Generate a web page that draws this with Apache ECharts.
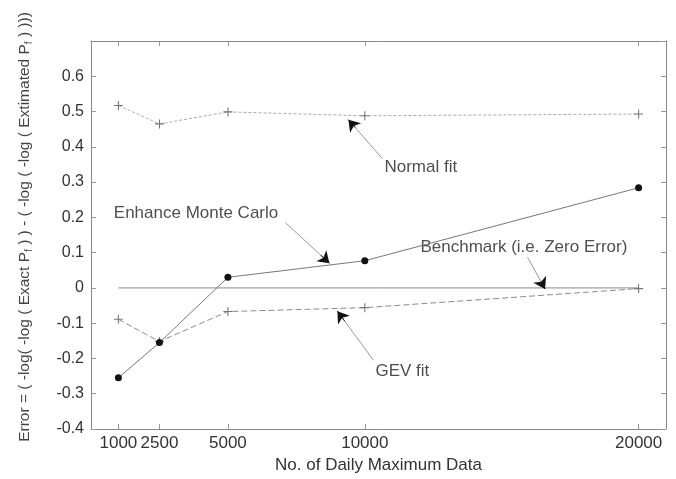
<!DOCTYPE html>
<html>
<head>
<meta charset="utf-8">
<script src="https://cdn.jsdelivr.net/npm/echarts@6/dist/echarts.min.js"></script>
<style>
html,body{margin:0;padding:0;background:#fff;}
#main{width:676px;height:479px;}
</style>
</head>
<body>
<div id="main"></div>
<script>
// ---- data ----
const xValues = [1000, 2500, 5000, 10000, 20000];
const xTickLabels = ['1000', '2500', '5000', '10000', '20000'];
const normalFit = [0.517, 0.465, 0.499, 0.488, 0.493];
const gevFit = [-0.089, -0.152, -0.067, -0.056, -0.002];
const enhancedMC = [-0.255, -0.155, 0.030, 0.077, 0.284];
const benchmarkX = [1000, 20000];
const benchmarkY = [0, 0];

// annotation texts and arrows (in data coordinates)
const noteTexts = ['Normal fit', 'Enhance Monte Carlo', 'Benchmark (i.e. Zero Error)', 'GEV fit'];
const noteX = [10717, 833, 12032, 10388];
const noteY = [0.341, 0.2125, 0.116, -0.236];
const arrowTailX = [10644, 7100, 15943, 10315];
const arrowTailY = [0.366, 0.185, 0.087, -0.205];
const arrowTipX = [9401, 8708, 16582, 8999];
const arrowTipY = [0.477, 0.070, -0.003, -0.066];

const FONT = '"Liberation Sans", Arial, sans-serif';
const pairs = (xs, ys) => xs.map((x, i) => [x, ys[i]]);
const plusPath = 'path://M4.4,0H5.6V4.4H10V5.6H5.6V10H4.4V5.6H0V4.4H4.4Z';

const arrowLines = arrowTailX.map((x, i) => [
  { coord: [x, arrowTailY[i]] },
  { coord: [arrowTipX[i], arrowTipY[i]] }
]);
const arrowHeads = arrowTailX.map((x, i) => {
  const sx = arrowTipX[i] + 0.2 * (x - arrowTipX[i]);
  const sy = arrowTipY[i] + 0.2 * (arrowTailY[i] - arrowTipY[i]);
  return [{ coord: [sx, sy] }, { coord: [arrowTipX[i], arrowTipY[i]] }];
});

const frameAxisCommon = {
  axisLine: { show: true, onZero: false, lineStyle: { color: '#888', width: 1 } },
  splitLine: { show: false }
};

const chart = echarts.init(document.getElementById('main'), null, { renderer: 'canvas' });
chart.setOption({
  animation: false,
  backgroundColor: '#fff',
  textStyle: { fontFamily: FONT },
  grid: { left: 91, right: 10, top: 41, bottom: 47 },
  xAxis: [
    Object.assign({
      type: 'value', min: 0, max: 21000, position: 'bottom',
      axisTick: { show: true, inside: true, length: 5, customValues: xValues, lineStyle: { color: '#999' } },
      axisLabel: {
        customValues: xValues,
        formatter: v => xTickLabels[xValues.indexOf(v)],
        color: '#333', fontSize: 17, margin: 6, fontFamily: FONT
      },
      name: 'No. of Daily Maximum Data',
      nameLocation: 'middle', nameGap: 28,
      nameTextStyle: { color: '#333', fontSize: 17, fontFamily: FONT }
    }, frameAxisCommon),
    Object.assign({
      type: 'value', min: 0, max: 21000, position: 'top',
      axisTick: { show: true, inside: true, length: 5, customValues: xValues, lineStyle: { color: '#999' } },
      axisLabel: { show: false }
    }, frameAxisCommon)
  ],
  yAxis: [
    Object.assign({
      type: 'value', min: -0.4, max: 0.7, interval: 0.1, position: 'left',
      axisTick: { show: true, inside: true, length: 5, lineStyle: { color: '#999' } },
      axisLabel: {
        showMaxLabel: false,
        formatter: v => { const r = Math.round(v * 10) / 10; return r === 0 ? '0' : String(r); },
        color: '#333', fontSize: 16, margin: 7, fontFamily: FONT
      },
      name: '{t|Error = ( -log( -log ( Exact P}{s|f}{t| ) ) - ( -log ( -log ( Extimated P}{s|f}{t| ) )))}',
      nameLocation: 'middle', nameGap: 57, nameRotate: 90,
      nameTextStyle: {
        color: '#444', fontFamily: FONT, padding: [0, 0, 0, 16],
        rich: {
          t: { fontSize: 15.5, color: '#444', fontFamily: FONT },
          s: { fontSize: 10, color: '#444', fontFamily: FONT, padding: [9, 0, 0, 0] }
        }
      }
    }, frameAxisCommon),
    Object.assign({
      type: 'value', min: -0.4, max: 0.7, interval: 0.1, position: 'right',
      axisTick: { show: true, inside: true, length: 5, lineStyle: { color: '#999' } },
      axisLabel: { show: false }
    }, frameAxisCommon)
  ],
  series: [
    {
      name: 'Benchmark', type: 'line', data: pairs(benchmarkX, benchmarkY),
      showSymbol: false, symbol: 'none',
      lineStyle: { color: '#8a8a8a', width: 1 },
      markLine: {
        silent: true, animation: false, symbol: ['none', 'none'],
        label: { show: false },
        lineStyle: { color: '#9a9a9a', width: 1, type: 'solid' },
        data: arrowLines
      }
    },
    {
      name: 'Normal fit', type: 'line', data: pairs(xValues, normalFit),
      symbol: plusPath, symbolSize: 9, showSymbol: true,
      itemStyle: { color: '#777' },
      lineStyle: { color: '#aaa', width: 1, type: [3, 2] }
    },
    {
      name: 'GEV fit', type: 'line', data: pairs(xValues, gevFit),
      symbol: plusPath, symbolSize: 9, showSymbol: true,
      itemStyle: { color: '#777' },
      lineStyle: { color: '#8c8c8c', width: 1, type: [6, 3] }
    },
    {
      name: 'Enhance Monte Carlo', type: 'line', data: pairs(xValues, enhancedMC),
      symbol: 'circle', symbolSize: 7, showSymbol: true,
      itemStyle: { color: '#111' },
      lineStyle: { color: '#777', width: 1 }
    },
    {
      name: 'notes', type: 'scatter',
      data: noteTexts.map((t, i) => ({ value: [noteX[i], noteY[i]], name: t })),
      symbolSize: 0, silent: true,
      label: { show: true, position: 'right', distance: 0, formatter: '{b}', color: '#222', fontSize: 17, fontFamily: FONT },
      markLine: {
        silent: true, animation: false, symbol: ['none', 'arrow'], symbolSize: 11,
        label: { show: false },
        lineStyle: { color: '#111', width: 1, type: 'solid' },
        data: arrowHeads
      }
    }
  ]
});
</script>
</body>
</html>
